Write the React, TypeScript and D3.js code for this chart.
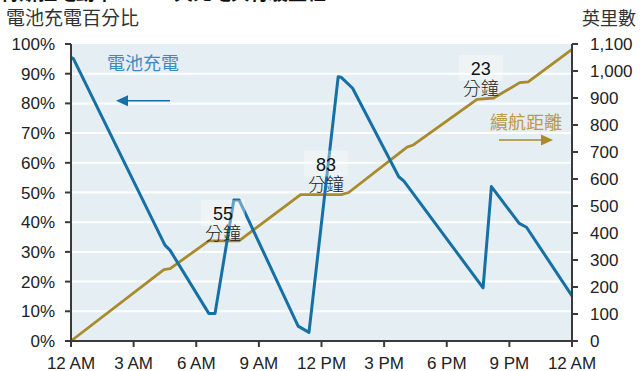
import React from "react";
import * as d3 from "d3";

const hourTicks = [0, 3, 6, 9, 12, 15, 18, 21, 24];
const hourLabels = ["12 AM", "3 AM", "6 AM", "9 AM", "12 PM", "3 PM", "6 PM", "9 PM", "12 AM"];
const pctTicks = [0, 10, 20, 30, 40, 50, 60, 70, 80, 90, 100];
const mileTicks = [0, 100, 200, 300, 400, 500, 600, 700, 800, 900, 1000, 1100];

// battery charge [hour, %]
const batteryHours = [0, 0.12, 4.5, 4.74, 6.6, 6.9, 7.8, 8.05, 10.88, 11.4, 12.8, 12.96, 13.49, 15.7, 15.95, 19.74, 20.14, 21.47, 21.82, 24];
const batteryPct = [95.5, 95, 32.3, 30.6, 9.3, 9.3, 47.5, 47.5, 5.0, 2.9, 89, 88.7, 85.1, 55.3, 53.8, 17.9, 52, 39.6, 38.3, 15.2];

// cumulative miles [hour, miles]
const mileHours = [0, 4.45, 4.75, 6.6, 8.05, 11.0, 12.95, 13.3, 16.1, 16.4, 19.45, 20.25, 21.5, 21.9, 24];
const miles = [0, 264, 268, 371, 371, 542, 542, 550, 718, 726, 895, 900, 957, 960, 1080];

// charging-duration annotations
const chargeMinutes = ["55", "83", "23"];
const chargeAtHour = [7.28, 12.22, 19.63];
const chargeAtPct = [40.7, 57.4, 89.6];

const W = 641, H = 371;
const L = 71, R = 572, T = 44, B = 341;
const BLUE = "#1570a6";
const GOLD = "#a98a2c";
const NUM = "'Liberation Sans', Arial, sans-serif";
const CJK = "'Noto Sans CJK TC', 'Noto Sans CJK SC', sans-serif";

export default function App() {
  const x = d3.scaleLinear().domain([0, 24]).range([L, R]);
  const yP = d3.scaleLinear().domain([0, 100]).range([B, T]);
  const yM = d3.scaleLinear().domain([0, 1100]).range([B, T]);

  const batt = batteryHours.map((h, i) => [h, batteryPct[i]] as [number, number]);
  const mil = mileHours.map((h, i) => [h, miles[i]] as [number, number]);
  const battLine = d3.line<[number, number]>().x(d => x(d[0])).y(d => yP(d[1]))(batt) || "";
  const milLine = d3.line<[number, number]>().x(d => x(d[0])).y(d => yM(d[1]))(mil) || "";

  return (
    <svg width={W} height={H} style={{ position: "absolute", left: 0, top: 0, background: "#fff" }}>
      {/* clipped title */}
      <text x={0} y={-0.5} fontFamily={CJK} fontWeight="bold" fontSize={19} fill="#111">特斯拉電動車</text>
      <text x={155} y={-0.5} fontFamily={CJK} fontWeight="bold" fontSize={19} fill="#111">一天充電與行駛里程</text>

      <text x={6} y={24.5} fontFamily={CJK} fontSize={19} fill="#333">電池充電百分比</text>
      <text x={636} y={24.5} textAnchor="end" fontFamily={CJK} fontSize={18} fill="#333">英里數</text>

      <rect x={L} y={T} width={R - L} height={B - T} fill="#e5eef2" />
      {pctTicks.filter(t => t > 0 && t < 100).map(t => (
        <line key={t} x1={L} x2={R} y1={yP(t)} y2={yP(t)} stroke="#fff" strokeWidth={2} />
      ))}

      <path d={milLine} fill="none" stroke={GOLD} strokeWidth={2.8} strokeLinejoin="round" />
      <path d={battLine} fill="none" stroke={BLUE} strokeWidth={3} strokeLinejoin="round" />

      {/* annotation boxes */}
      {chargeMinutes.map((m, i) => {
        const cx = x(chargeAtHour[i]);
        const cy = yP(chargeAtPct[i]);
        return (
          <g key={i}>
            <rect x={cx - 22} y={cy - 20} width={44} height={26} fill="#fff" opacity={0.35} />
            <text x={cx} y={cy} textAnchor="middle" fontFamily={NUM} fontSize={18} fill="#111">{m}</text>
            <text x={cx} y={cy + 20} textAnchor="middle" fontFamily={CJK} fontWeight={300} fontSize={18} fill="#222">分鐘</text>
          </g>
        );
      })}

      {/* legends */}
      <text x={107} y={70} fontFamily={CJK} fontSize={18} fill="#3a8cc0">電池充電</text>
      <line x1={127} x2={170} y1={100.7} y2={100.7} stroke={BLUE} strokeWidth={1.5} />
      <path d="M116,100.7 L128,95.2 L128,106.2 Z" fill={BLUE} />
      <text x={490} y={128.5} fontFamily={CJK} fontSize={18} fill="#bb9a4a">續航距離</text>
      <line x1={499} x2={542} y1={140} y2={140} stroke={GOLD} strokeWidth={1.5} />
      <path d="M553,140 L541,134.5 L541,145.5 Z" fill={GOLD} />

      {/* axes */}
      <line x1={L} x2={L} y1={T} y2={B} stroke="#3a3a3a" strokeWidth={2} />
      <line x1={R} x2={R} y1={T} y2={B} stroke="#3a3a3a" strokeWidth={2} />
      <line x1={L} x2={R} y1={B} y2={B} stroke="#3a3a3a" strokeWidth={2} />
      {pctTicks.map(t => (
        <g key={t}>
          <line x1={L - 6} x2={L} y1={yP(t)} y2={yP(t)} stroke="#3a3a3a" strokeWidth={2} />
          <text x={55} y={yP(t) + 6} textAnchor="end" fontFamily={NUM} fontSize={17} fill="#222">{t}%</text>
        </g>
      ))}
      {mileTicks.map(t => (
        <g key={t}>
          <line x1={R} x2={R + 6} y1={yM(t)} y2={yM(t)} stroke="#3a3a3a" strokeWidth={2} />
          <text x={590} y={yM(t) + 6} fontFamily={NUM} fontSize={17} fill="#222">{d3.format(",")(t)}</text>
        </g>
      ))}
      {hourTicks.map((h, i) => (
        <g key={i}>
          <line x1={x(h)} x2={x(h)} y1={B} y2={B + 6} stroke="#3a3a3a" strokeWidth={2} />
          <text x={x(h)} y={368.5} textAnchor="middle" fontFamily={NUM} fontSize={17} fill="#222">{hourLabels[i]}</text>
        </g>
      ))}
    </svg>
  );
}
